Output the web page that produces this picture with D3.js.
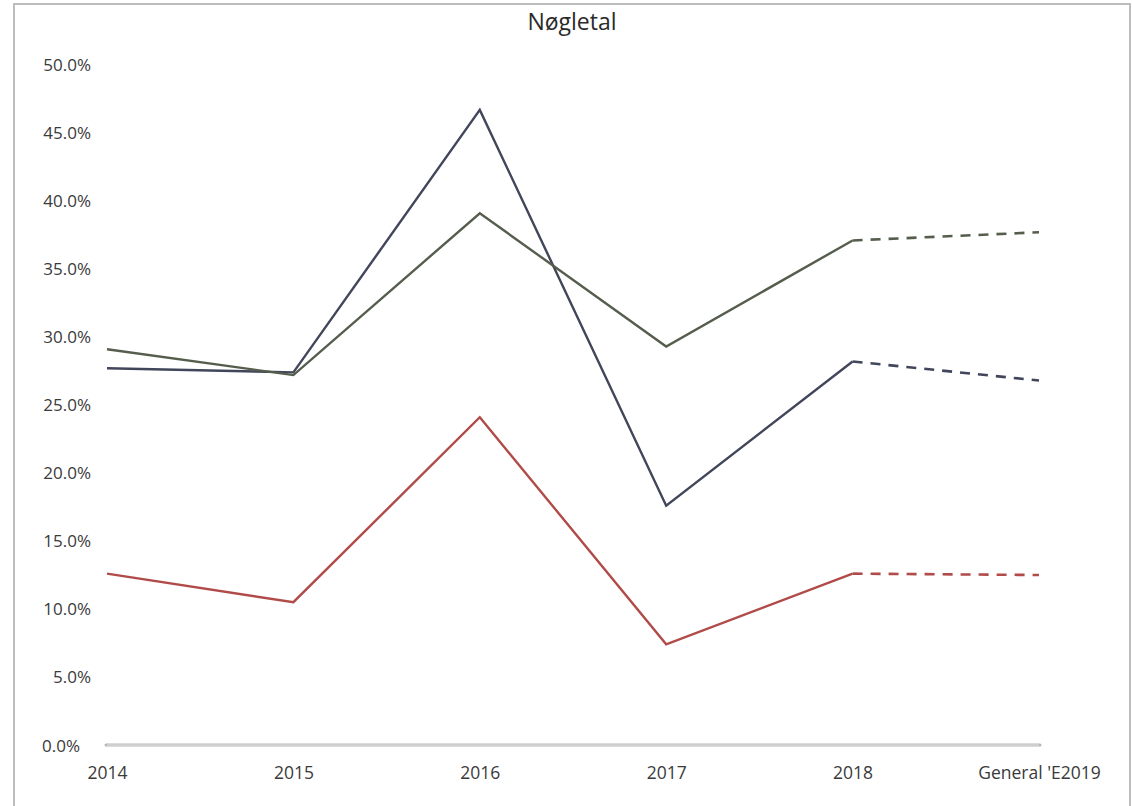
<!DOCTYPE html>
<html>
<head>
<meta charset="utf-8">
<script src="https://cdnjs.cloudflare.com/ajax/libs/d3/7.8.5/d3.min.js"></script>
<style>
  html, body { margin: 0; padding: 0; background: #fff; }
  svg { display: block; font-family: "Open Sans", "Noto Sans", sans-serif; }
</style>
</head>
<body>
<svg id="chart" width="1132" height="806"></svg>
<script>
// Categories along the x axis
const categories = ["2014", "2015", "2016", "2017", "2018", "General 'E2019"];

// Key figures per year (fractions); last point is the estimate
const seriesNavy  = [0.277, 0.274, 0.467, 0.176, 0.282, 0.268];
const seriesGreen = [0.291, 0.272, 0.391, 0.293, 0.371, 0.377];
const seriesRed   = [0.126, 0.105, 0.241, 0.074, 0.126, 0.125];

// Y tick values
const yTicks = [0, 0.05, 0.10, 0.15, 0.20, 0.25, 0.30, 0.35, 0.40, 0.45, 0.50];

const title = "Nøgletal";

const series = [
  { values: seriesNavy,  color: "#41465a" },
  { values: seriesGreen, color: "#555e4d" },
  { values: seriesRed,   color: "#b04b49" }
];

const svg = d3.select("#chart");

// Outer frame
svg.append("rect")
  .attr("x", 14).attr("y", 4)
  .attr("width", 1116).attr("height", 820)
  .attr("fill", "none")
  .attr("stroke", "#bdbdbd")
  .attr("stroke-width", 2);

const x = d3.scalePoint()
  .domain(categories)
  .range([107, 1039]);

const y = d3.scaleLinear()
  .domain([0, 0.5])
  .range([745, 65]);

// Title
svg.append("text")
  .attr("x", 572).attr("y", 30)
  .attr("text-anchor", "middle")
  .attr("font-size", 23)
  .attr("fill", "#2a2a2a")
  .text(title);

// Y axis labels (no axis line)
const yAxis = d3.axisLeft(y)
  .tickValues(yTicks)
  .tickFormat(d3.format(".1%"))
  .tickSize(0)
  .tickPadding(0);

const yg = svg.append("g")
  .attr("transform", "translate(91,0)")
  .call(yAxis);
yg.select(".domain").remove();
yg.selectAll("text")
  .attr("font-size", 17)
  .attr("fill", "#3a3a3a")
  .attr("font-family", "\"Open Sans\", \"Noto Sans\", sans-serif")
  .attr("dx", d => d === 0 ? -11 : 0)
  .attr("dy", d => d === 0 ? "0.4em" : "0.32em");

// X axis: labels plus the baseline
const xAxis = d3.axisBottom(x)
  .tickSize(0)
  .tickPadding(0);

const xg = svg.append("g")
  .attr("transform", "translate(0,767)")
  .call(xAxis);
xg.select(".domain").remove();
xg.selectAll("text")
  .attr("font-size", 17.5)
  .attr("fill", "#3a3a3a")
  .attr("font-family", "\"Open Sans\", \"Noto Sans\", sans-serif")
  .attr("dy", "0.32em")
  .attr("y", 6);

// Baseline at 0%
svg.append("line")
  .attr("x1", x(categories[0]) - 1)
  .attr("x2", x(categories[categories.length - 1]) + 1)
  .attr("y1", y(0)).attr("y2", y(0))
  .attr("stroke", "#b8b8b8")
  .attr("stroke-width", 3)
  .attr("stroke-linecap", "round");
svg.append("line")
  .attr("x1", x(categories[0]))
  .attr("x2", x(categories[categories.length - 1]))
  .attr("y1", y(0)).attr("y2", y(0))
  .attr("stroke", "#e6e6e6")
  .attr("stroke-width", 1);

const line = d3.line()
  .x((d, i) => x(categories[i]))
  .y(d => y(d));

const lastActual = categories.length - 2;

series.forEach(s => {
  // Solid for actual years
  svg.append("path")
    .datum(s.values.slice(0, lastActual + 1))
    .attr("d", line)
    .attr("fill", "none")
    .attr("stroke", s.color)
    .attr("stroke-width", 2.4)
    .attr("stroke-linejoin", "miter");

  // Dashed for the estimate
  const seg = s.values.map((v, i) => ({ v, i })).slice(lastActual);
  svg.append("path")
    .datum(seg)
    .attr("d", d3.line().x(d => x(categories[d.i])).y(d => y(d.v)))
    .attr("fill", "none")
    .attr("stroke", s.color)
    .attr("stroke-width", 2.6)
    .attr("stroke-dasharray", "10,8");
});
</script>
</body>
</html>
